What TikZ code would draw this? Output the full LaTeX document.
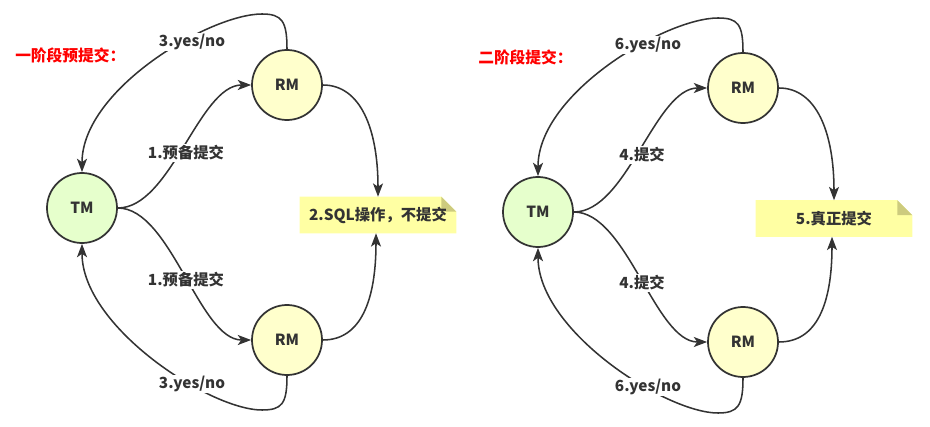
\documentclass[tikz,border=0pt]{standalone}
\usepackage{fontspec}
\setmainfont{Noto Sans CJK SC}
\usetikzlibrary{arrows.meta,backgrounds}
\definecolor{lineclr}{HTML}{333333}
\definecolor{tmfill}{HTML}{E6FFCC}
\definecolor{rmfill}{HTML}{FFFFCC}
\definecolor{notefill}{HTML}{FFFFA3}
\definecolor{foldfill}{HTML}{CDCB7E}
\tikzset{
  tmnode/.style={circle,draw=lineclr,line width=1.3pt,fill=tmfill,minimum size=52.5pt,inner sep=0pt,font=\bfseries\fontsize{11.5}{13}\selectfont,text=lineclr},
  rmnode/.style={circle,draw=lineclr,line width=1.3pt,fill=rmfill,minimum size=52.5pt,inner sep=0pt,font=\bfseries\fontsize{11.5}{13}\selectfont,text=lineclr},
  notebox/.style={rectangle,minimum width=117pt,minimum height=27pt,inner sep=0pt,font=\bfseries\fontsize{11.5}{13}\selectfont,text=lineclr},
  lbl/.style={fill=white,inner sep=1pt,font=\bfseries\fontsize{11.5}{13}\selectfont,text=lineclr},
  ttl/.style={anchor=west,inner sep=0pt,text=red,font=\bfseries\fontsize{11.8}{13}\selectfont},
  conn/.style={draw=lineclr,line width=1.15pt,-{Stealth[length=10pt,width=7.5pt,inset=2.5pt]}},
}
\newcommand{\drawnote}[1]{%
  \begin{scope}[on background layer]
  \fill[notefill] (#1.north west) -- ([xshift=-11.25pt]#1.north east) -- ([yshift=-11.25pt]#1.north east) -- (#1.south east) -- (#1.south west) -- cycle;
  \fill[foldfill] ([xshift=-11.25pt]#1.north east) -- ([xshift=-11.25pt,yshift=-11.25pt]#1.north east) -- ([yshift=-11.25pt]#1.north east) -- cycle;
  \end{scope}}
\begin{document}
\begin{tikzpicture}[x=0.75pt,y=-0.75pt]
\useasboundingbox (0,0) rectangle (930,427);
% ---------- left panel ----------
\node[ttl] (T1) at (15,55) {一阶段预提交：};
\node[tmnode] (TM1) at (82,208) {TM};
\node[rmnode] (RA1) at (287,85) {RM};
\node[rmnode] (RB1) at (287,340) {RM};
\node[notebox] (N1) at (378,215) {2.SQL操作，不提交};
\drawnote{N1}
\coordinate (P1) at (262,14);
\coordinate (Q1) at (262,410);
\draw[conn] (TM1.east) .. controls +(53,0) and +(-52,0) .. (RA1.west);
\draw[conn] (TM1.east) .. controls +(53,0) and +(-52,0) .. (RB1.west);
\draw[conn] (RA1.north) .. controls +(0,-28) and +(20,0) .. (P1) .. controls +(-52,0) and +(0,-83) .. (TM1.north);
\draw[conn] (RB1.south) .. controls +(0,28) and +(20,0) .. (Q1) .. controls +(-52,0) and +(0,83) .. (TM1.south);
\draw[conn] (RA1.east) .. controls +(38,0) and +(0,-67) .. (N1.north);
\draw[conn] (RB1.east) .. controls +(38,0) and +(0,67) .. ([xshift=-1.5pt]N1.south);
\node[lbl] (L1a) at (186,153) {1.预备提交};
\node[lbl] (L1b) at (186,280) {1.预备提交};
\node[lbl] (L1c) at (192,42) {3.yes/no};
\node[lbl] (L1d) at (192,384) {3.yes/no};
% ---------- right panel ----------
\node[ttl] (T2) at (478,57) {二阶段提交：};
\node[tmnode] (TM2) at (538,212) {TM};
\node[rmnode] (RA2) at (743,88) {RM};
\node[rmnode] (RB2) at (743,342) {RM};
\node[notebox] (N2) at (834,218.5) {5.真正提交};
\drawnote{N2}
\coordinate (P2) at (718,18);
\coordinate (Q2) at (718,413);
\draw[conn] (TM2.east) .. controls +(53,0) and +(-52,0) .. (RA2.west);
\draw[conn] (TM2.east) .. controls +(53,0) and +(-52,0) .. (RB2.west);
\draw[conn] (RA2.north) .. controls +(0,-28) and +(20,0) .. (P2) .. controls +(-52,0) and +(0,-83) .. (TM2.north);
\draw[conn] (RB2.south) .. controls +(0,28) and +(20,0) .. (Q2) .. controls +(-52,0) and +(0,83) .. (TM2.south);
\draw[conn] (RA2.east) .. controls +(38,0) and +(0,-67) .. (N2.north);
\draw[conn] (RB2.east) .. controls +(38,0) and +(0,67) .. ([xshift=-1.5pt]N2.south);
\node[lbl] (L2a) at (642,155) {4.提交};
\node[lbl] (L2b) at (642,283) {4.提交};
\node[lbl] (L2c) at (648,45) {6.yes/no};
\node[lbl] (L2d) at (648,387) {6.yes/no};
\end{tikzpicture}
\end{document}
